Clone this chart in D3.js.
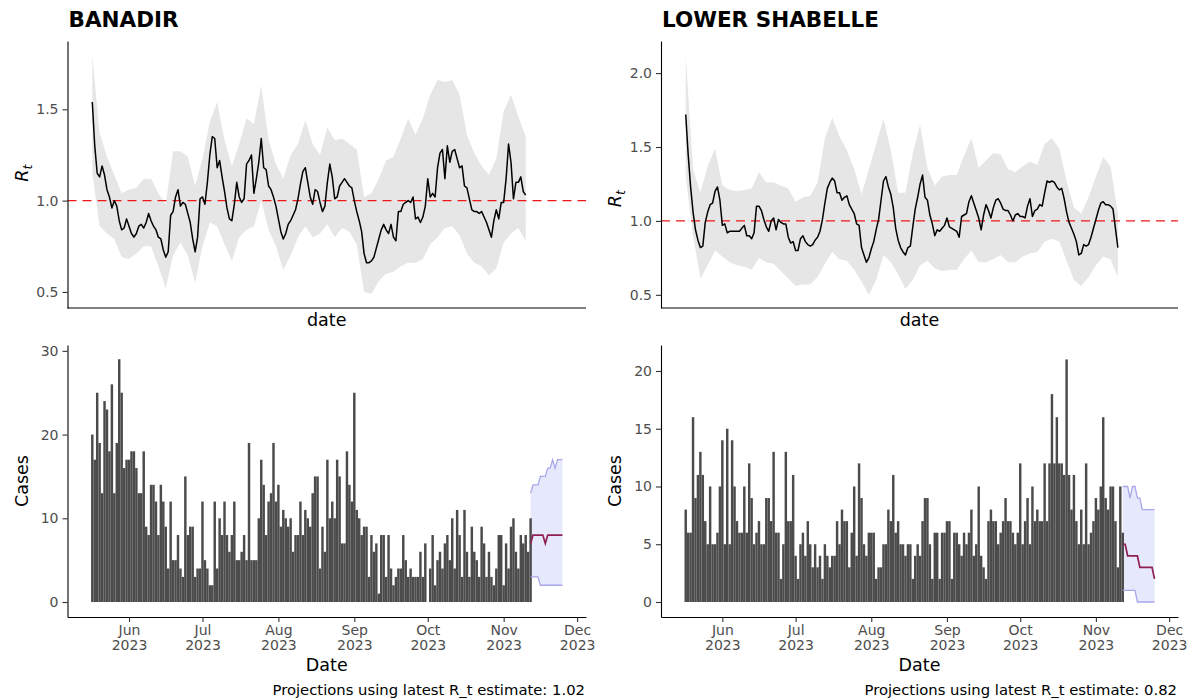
<!DOCTYPE html>
<html>
<head>
<meta charset="utf-8">
<script src="https://cdn.jsdelivr.net/npm/d3@7"></script>
<style>
  body { margin: 0; background: #fff; }
  svg { display: block; font-family: "DejaVu Sans", sans-serif; }
</style>
</head>
<body>
<svg width="1192" height="700"></svg>
<script>
// first reported day, one value per day after that
var firstDay = "2023-05-17";
var monthTicks = ["2023-06-01", "2023-07-01", "2023-08-01", "2023-09-01", "2023-10-01", "2023-11-01", "2023-12-01"];
var bandStep = 3; // the credible band was read every 3rd day

// ---- BANADIR ----
var banadirCases = [
  20,17,25,19,13,24,23,18,26,13, 19,29,25,16,17,17,18,18,16,13,
  13,18,9,8,14,14,12,8,14,12, 9,4,12,5,5,8,4,3,15,8,
  9,9,3,4,4,12,5,4,2,2, 12,4,10,8,12,8,6,8,12,5,
  5,6,8,5,19,5,5,5,10,17, 14,8,12,13,19,12,14,9,11,10,
  9,10,6,8,8,12,8,11,10,9, 13,15,15,4,9,6,17,10,12,10,
  17,15,7,7,18,14,12,25,11,10, 8,9,9,3,8,6,7,1,8,8,
  3,8,4,2,3,4,4,8,5,3, 4,3,3,3,6,3,7,0,4,8,
  2,5,6,4,7,8,5,10,4,11, 8,3,11,6,3,9,6,5,3,9,
  7,3,6,3,2,4,8,8,2,7, 4,9,10,6,4,8,7,8,6,10
];
var banadirRt = [
  1.54,1.30,1.15,1.13,1.19,1.14,1.06,1.02,0.96,1.00, 0.97,0.89,0.84,0.85,0.90,0.86,0.82,0.80,0.82,0.86,
  0.87,0.85,0.88,0.93,0.89,0.86,0.84,0.80,0.79,0.73, 0.69,0.72,0.92,0.94,1.02,1.06,0.97,0.99,0.98,0.93,
  0.88,0.79,0.72,0.80,1.01,1.02,0.98,1.10,1.25,1.35, 1.34,1.18,1.22,1.13,1.05,0.96,0.90,0.89,0.98,1.10,
  1.02,0.99,1.01,1.20,1.22,1.25,1.04,1.12,1.21,1.34, 1.18,1.17,1.08,1.06,1.02,0.97,0.90,0.83,0.79,0.82,
  0.87,0.89,0.92,0.95,1.01,1.09,1.16,1.18,1.10,1.02, 0.98,1.06,1.05,0.99,0.94,0.97,1.10,1.20,1.13,1.01,
  1.02,1.08,1.10,1.12,1.10,1.08,1.07,1.00,0.94,0.89, 0.83,0.71,0.66,0.66,0.67,0.69,0.74,0.79,0.84,0.87,
  0.84,0.82,0.87,0.80,0.78,0.94,0.94,0.98,0.99,1.00, 0.99,1.02,0.90,0.91,0.88,0.91,0.97,1.12,1.02,1.04,
  1.02,1.18,1.26,1.28,1.12,1.30,1.21,1.27,1.28,1.23, 1.18,1.19,1.08,1.07,1.01,0.95,0.94,0.94,0.93,0.94,
  0.91,0.88,0.84,0.80,0.89,0.95,0.90,0.99,0.99,1.12, 1.31,1.21,1.01,1.10,1.10,1.13,1.05,1.03
];
var banadirRtLow = [
  1.15,0.86,0.82,0.79,0.69,0.68,0.71,0.75,0.75,0.64, 0.52,0.70,0.77,0.70,0.55,0.75,0.88,0.86,0.76,0.67,
  0.80,0.84,0.86,1.00,0.84,0.75,0.62,0.70,0.80,0.86, 0.80,0.82,0.87,0.80,0.85,0.83,0.76,0.50,0.49,0.56,
  0.60,0.61,0.64,0.66,0.66,0.68,0.76,0.80,0.85,0.86, 0.81,0.71,0.66,0.64,0.59,0.63,0.77,0.82,0.85,0.78
];
var banadirRtHigh = [
  1.79,1.37,1.24,1.14,1.04,1.06,1.07,1.12,1.12,1.04, 0.98,1.27,1.27,1.24,1.08,1.23,1.43,1.54,1.33,1.19,
  1.31,1.45,1.42,1.63,1.33,1.20,1.12,1.25,1.31,1.44, 1.31,1.25,1.40,1.33,1.34,1.31,1.28,1.02,1.04,1.12,
  1.22,1.24,1.34,1.45,1.36,1.45,1.58,1.66,1.65,1.66, 1.58,1.36,1.26,1.19,1.14,1.23,1.49,1.58,1.46,1.35
];
var banadirProjLow  = [3,3,3,3,2,2,2,2,2,2,2,2,2,2];
var banadirProjMid  = [7,8,8,8,8,8,7,8,8,8,8,8,8,8];
var banadirProjHigh = [13,14,14,14,15,15,15,16,16,17,16,17,17,17];

// ---- LOWER SHABELLE ----
var shabelleCases = [
  8,6,6,16,9,11,13,11,7,5, 10,5,5,6,10,14,5,15,5,14,
  10,7,6,6,10,6,12,9,5,6, 7,5,5,9,9,7,13,6,6,2,
  5,13,7,7,11,4,2,5,6,4, 7,5,3,5,3,4,2,5,4,3,
  4,4,7,5,8,7,7,3,6,10, 4,12,9,5,4,6,6,6,2,3,
  3,5,5,8,7,11,6,7,5,5, 4,5,5,2,4,5,4,7,9,9,
  5,2,6,6,2,6,6,7,7,2, 6,6,5,4,6,5,6,8,4,5,
  10,4,3,2,7,8,7,7,5,6, 7,9,7,7,6,5,6,12,5,7,
  9,5,10,7,8,7,7,12,7,12, 18,12,16,12,12,11,21,11,8,11,
  7,5,8,5,12,5,6,7,9,8, 10,16,9,8,10,10,7,3,10,6
];
var shabelleRt = [
  1.72,1.45,1.23,1.06,0.94,0.87,0.82,0.83,0.99,1.06, 1.11,1.12,1.20,1.23,1.14,0.97,0.98,0.92,0.93,0.93,
  0.93,0.93,0.93,0.95,0.97,0.90,0.90,0.88,0.92,1.10, 1.10,1.07,1.01,0.96,0.93,1.00,1.02,0.94,1.01,0.99,
  0.98,0.98,0.89,0.85,0.86,0.80,0.80,0.88,0.90,0.86, 0.84,0.83,0.84,0.87,0.89,0.93,1.01,1.12,1.22,1.26,
  1.29,1.27,1.19,1.19,1.14,1.16,1.17,1.11,1.08,1.05, 0.98,0.97,0.82,0.77,0.72,0.75,0.81,0.86,0.94,1.01,
  1.14,1.27,1.30,1.23,1.18,1.09,0.95,0.87,0.82,0.79, 0.77,0.82,0.83,0.96,1.08,1.16,1.25,1.31,1.16,1.14,
  1.04,0.98,0.90,0.94,0.93,0.95,0.97,1.02,0.96,0.95, 0.94,0.93,0.89,1.03,1.04,1.05,1.13,1.17,1.12,1.07,
  1.02,0.94,1.04,1.11,1.07,1.02,1.09,1.14,1.15,1.12, 1.08,1.07,1.07,1.04,1.00,1.04,1.05,1.03,1.03,1.02,
  1.10,1.15,1.03,1.07,1.08,1.11,1.10,1.19,1.27,1.26, 1.27,1.26,1.23,1.21,1.22,1.15,1.06,0.99,0.95,0.91,
  0.86,0.77,0.78,0.84,0.83,0.84,0.89,0.95,1.01,1.07, 1.12,1.13,1.11,1.11,1.10,1.08,0.95,0.82
];
var shabelleRtLow = [
  1.30,0.90,0.61,0.70,0.80,0.76,0.72,0.70,0.69,0.67, 0.75,0.72,0.71,0.66,0.61,0.56,0.57,0.57,0.62,0.71,
  0.79,0.74,0.73,0.67,0.59,0.50,0.60,0.77,0.72,0.64, 0.54,0.60,0.70,0.73,0.68,0.66,0.67,0.67,0.74,0.80,
  0.72,0.72,0.74,0.77,0.72,0.72,0.76,0.78,0.79,0.86, 0.88,0.86,0.73,0.60,0.56,0.62,0.70,0.76,0.74,0.62
];
var shabelleRtHigh = [
  2.12,1.35,1.19,1.37,1.49,1.24,1.21,1.20,1.21,1.22, 1.33,1.26,1.26,1.24,1.22,1.13,1.16,1.17,1.26,1.56,
  1.70,1.57,1.48,1.35,1.18,1.35,1.52,1.69,1.48,1.19, 1.19,1.46,1.65,1.36,1.24,1.30,1.31,1.31,1.44,1.56,
  1.36,1.41,1.46,1.45,1.35,1.33,1.37,1.40,1.38,1.52, 1.56,1.49,1.27,1.09,1.05,1.16,1.30,1.43,1.37,1.05
];
var shabelleProjLow  = [1,1,1,1,1,1,0,0,0,0,0,0,0,0];
var shabelleProjMid  = [5,5,4,4,4,4,4,3,3,3,3,3,3,2];
var shabelleProjHigh = [10,10,10,9,10,10,9,9,8,8,8,8,8,8];

var panels = [
  { title: "BANADIR", latest: "1.02", left: 67.5, right: 586,
    cases: banadirCases, rt: banadirRt, rtLow: banadirRtLow, rtHigh: banadirRtHigh,
    projLow: banadirProjLow, projMid: banadirProjMid, projHigh: banadirProjHigh,
    rtDomain: [0.412, 1.874], rtTicks: [0.5, 1.0, 1.5],
    caseDomain: [-1.79, 30.7], caseTicks: [0, 10, 20, 30] },
  { title: "LOWER SHABELLE", latest: "0.82", left: 661, right: 1178,
    cases: shabelleCases, rt: shabelleRt, rtLow: shabelleRtLow, rtHigh: shabelleRtHigh,
    projLow: shabelleProjLow, projMid: shabelleProjMid, projHigh: shabelleProjHigh,
    rtDomain: [0.411, 2.217], rtTicks: [0.5, 1.0, 1.5, 2.0],
    caseDomain: [-1.30, 22.25], caseTicks: [0, 5, 10, 15, 20] }
];

var svg = d3.select("svg");
var parseDay = d3.utcParse("%Y-%m-%d");
var day0 = parseDay(firstDay);
function dayAt(i) { return d3.utcDay.offset(day0, i); }
var monFmt = d3.utcFormat("%b");

var topY = [308, 41], botY = [617, 345];

function styleAxis(g) {
  g.select(".domain").attr("stroke", "#000").attr("stroke-width", 1.1);
  g.selectAll(".tick line").attr("stroke", "#333").attr("stroke-width", 1.1);
  g.selectAll(".tick text").attr("fill", "#4d4d4d").style("font-size", "14px")
    .style("font-family", "DejaVu Sans, sans-serif");
}

panels.forEach(function (p) {
  var nCases = p.cases.length;
  var lastDay = nCases - 1;
  var projEnd = lastDay + p.projMid.length - 1;

  // ggplot-like 5% padding around the bar edges / projection
  var lo = d3.utcHour.offset(dayAt(0), -12), hi = dayAt(projEnd);
  var pad = (hi - lo) * 0.05;
  var x = d3.scaleUtc()
    .domain([new Date(+lo - pad), new Date(+hi + pad)])
    .range([p.left, p.right]);
  var step = x(dayAt(1)) - x(dayAt(0));

  // ---------- title ----------
  svg.append("text").attr("x", p.left + 1).attr("y", 26.5)
    .style("font-size", "21.5px").style("font-weight", "bold")
    .text(p.title);

  // ---------- Rt panel ----------
  var yR = d3.scaleLinear().domain(p.rtDomain).range(topY);
  var band = p.rtLow.map(function (v, k) {
    return { date: dayAt(k * bandStep), lo: v, hi: p.rtHigh[k] };
  });
  svg.append("path").datum(band)
    .attr("fill", "#e6e6e6")
    .attr("d", d3.area().x(function (d) { return x(d.date); })
      .y0(function (d) { return yR(d.lo); }).y1(function (d) { return yR(d.hi); }));

  svg.append("line")
    .attr("x1", p.left).attr("x2", p.right)
    .attr("y1", yR(1)).attr("y2", yR(1))
    .attr("stroke", "#f0171b").attr("stroke-width", 1.4).attr("stroke-dasharray", "9,6");

  svg.append("path").datum(p.rt)
    .attr("fill", "none").attr("stroke", "#000").attr("stroke-width", 1.5)
    .attr("stroke-linejoin", "round")
    .attr("d", d3.line().x(function (d, i) { return x(dayAt(i)); }).y(function (d) { return yR(d); }));

  var gyR = svg.append("g").attr("transform", "translate(" + p.left + ",0)")
    .call(d3.axisLeft(yR).tickValues(p.rtTicks).tickFormat(d3.format(".1f"))
      .tickSize(5).tickSizeOuter(0).tickPadding(4));
  styleAxis(gyR);
  svg.append("line").attr("x1", p.left).attr("x2", p.right)
    .attr("y1", topY[0]).attr("y2", topY[0]).attr("stroke", "#000").attr("stroke-width", 1.1);

  svg.append("text").attr("x", (p.left + p.right) / 2).attr("y", 326)
    .attr("text-anchor", "middle").style("font-size", "17.5px").text("date");

  var rl = svg.append("text")
    .attr("transform", "translate(" + (p.left - 40) + "," + yR(1.15) + ") rotate(-90)")
    .attr("text-anchor", "middle");
  rl.append("tspan").style("font-size", "17.5px").style("font-style", "italic").text("R");
  rl.append("tspan").style("font-size", "12.5px").style("font-style", "italic")
    .attr("dy", 4).text("t");

  // ---------- cases panel ----------
  var yC = d3.scaleLinear().domain(p.caseDomain).range(botY);

  var proj = p.projMid.map(function (v, k) {
    return { date: dayAt(lastDay + k), lo: p.projLow[k], mid: v, hi: p.projHigh[k] };
  });
  var px = function (d) { return x(d.date); };
  svg.append("path").datum(proj).attr("fill", "#e6e8fc")
    .attr("d", d3.area().x(px).y0(function (d) { return yC(d.lo); }).y1(function (d) { return yC(d.hi); }));

  svg.append("g").selectAll("rect").data(p.cases).join("rect")
    .attr("x", function (d, i) { return x(dayAt(i)) - step / 2; })
    .attr("width", step)
    .attr("y", function (d) { return yC(d); })
    .attr("height", function (d) { return yC(0) - yC(d); })
    .attr("fill", "#4b4b4b");

  ["lo", "hi"].forEach(function (k) {
    svg.append("path").datum(proj).attr("fill", "none")
      .attr("stroke", "#aaa6ea").attr("stroke-width", 1.3)
      .attr("d", d3.line().x(px).y(function (d) { return yC(d[k]); }));
  });
  svg.append("path").datum(proj).attr("fill", "none")
    .attr("stroke", "#8e2152").attr("stroke-width", 1.7)
    .attr("d", d3.line().x(px).y(function (d) { return yC(d.mid); }));

  var gyC = svg.append("g").attr("transform", "translate(" + p.left + ",0)")
    .call(d3.axisLeft(yC).tickValues(p.caseTicks).tickSize(5).tickSizeOuter(0).tickPadding(4));
  styleAxis(gyC);

  var gx = svg.append("g").attr("transform", "translate(0," + botY[0] + ")")
    .call(d3.axisBottom(x).tickValues(monthTicks.map(parseDay))
      .tickSize(5).tickSizeOuter(0).tickPadding(3));
  styleAxis(gx);
  gx.selectAll(".tick text").each(function (d) {
    var t = d3.select(this).text(null);
    t.append("tspan").attr("x", 0).text(monFmt(d));
    t.append("tspan").attr("x", 0).attr("dy", "1.05em").text(d3.utcFormat("%Y")(d));
  });

  svg.append("text").attr("x", (p.left + p.right) / 2).attr("y", 671)
    .attr("text-anchor", "middle").style("font-size", "17.5px").text("Date");
  svg.append("text")
    .attr("transform", "translate(" + (p.left - 40) + "," + ((botY[0] + botY[1]) / 2) + ") rotate(-90)")
    .attr("text-anchor", "middle").style("font-size", "17.5px").text("Cases");

  svg.append("text").attr("x", p.right - 1).attr("y", 695)
    .attr("text-anchor", "end").style("font-size", "14.8px")
    .text("Projections using latest R_t estimate: " + p.latest);
});
</script>
</body>
</html>
